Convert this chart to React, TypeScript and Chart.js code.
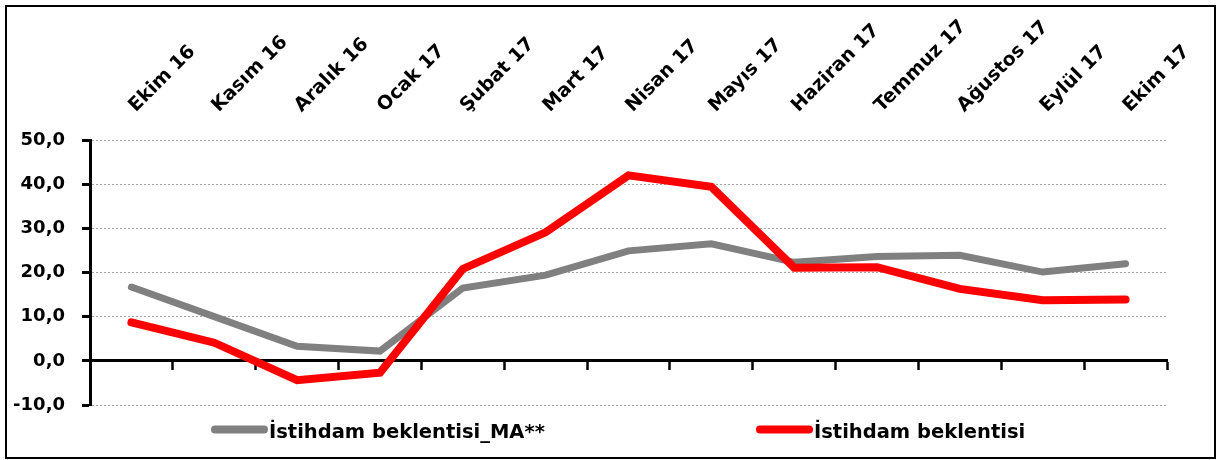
import React, { useEffect, useRef } from "react";
import { Chart, registerables } from "chart.js";

Chart.register(...registerables);

const categories = [
  "Ekim 16", "Kasım 16", "Aralık 16", "Ocak 17", "Şubat 17", "Mart 17", "Nisan 17",
  "Mayıs 17", "Haziran 17", "Temmuz 17", "Ağustos 17", "Eylül 17", "Ekim 17",
];
const maValues = [16.7, 10.0, 3.3, 2.2, 16.5, 19.4, 24.9, 26.5, 22.3, 23.6, 23.9, 20.1, 22.0];
const expectationValues = [8.7, 4.1, -4.4, -2.7, 20.8, 29.1, 42.0, 39.4, 21.1, 21.2, 16.3, 13.7, 13.9];
const yTickValues = [-10, 0, 10, 20, 30, 40, 50];
const maLabel = "İstihdam beklentisi_MA**";
const expectationLabel = "İstihdam beklentisi";

const FONT = '"DejaVu Sans", sans-serif';

const legendPlugin = {
  id: "customLegend",
  afterDraw(chart: any) {
    const { ctx, chartArea } = chart;
    const items = [
      { ds: chart.data.datasets[0], x: chartArea.left + 121 },
      { ds: chart.data.datasets[1], x: chartArea.left + 666 },
    ];
    const lineY = chartArea.bottom + 24.5;
    const textY = chartArea.bottom + 33;
    ctx.save();
    for (const it of items) {
      ctx.beginPath();
      ctx.lineCap = "round";
      ctx.lineWidth = 8;
      ctx.strokeStyle = it.ds.borderColor;
      ctx.moveTo(it.x + 4, lineY);
      ctx.lineTo(it.x + 53, lineY);
      ctx.stroke();
      ctx.fillStyle = "#000";
      ctx.font = `bold 19.5px ${FONT}`;
      ctx.textAlign = "left";
      ctx.textBaseline = "alphabetic";
      ctx.fillText(it.ds.label, it.x + 58, textY);
    }
    ctx.restore();
  },
};

export default function App() {
  const ref = useRef<HTMLCanvasElement>(null);

  useEffect(() => {
    const chart = new Chart(ref.current as HTMLCanvasElement, {
      type: "line",
      data: {
        labels: categories,
        datasets: [
          {
            label: maLabel,
            data: maValues,
            borderColor: "#808080",
            backgroundColor: "#808080",
            borderWidth: 7,
            pointRadius: 0,
            tension: 0,
            borderCapStyle: "round",
            order: 1,
            xAxisID: "x",
            yAxisID: "y",
          },
          {
            label: expectationLabel,
            data: expectationValues,
            borderColor: "#ff0000",
            backgroundColor: "#ff0000",
            borderWidth: 8,
            pointRadius: 0,
            tension: 0,
            borderCapStyle: "round",
            order: 0,
            xAxisID: "x",
            yAxisID: "y",
          },
        ],
      },
      options: {
        responsive: false,
        animation: false,
        devicePixelRatio: 1,
        layout: { padding: { left: 10, right: 50, top: 0, bottom: 55 } },
        plugins: { legend: { display: false }, tooltip: { enabled: false } },
        scales: {
          x: {
            type: "category",
            position: "top",
            offset: true,
            grid: { display: false },
            border: { display: false },
            ticks: {
              autoSkip: false,
              minRotation: 45,
              maxRotation: 45,
              padding: 15,
              labelOffset: 17,
              color: "#000",
              font: { family: FONT, size: 19, weight: "bold" },
            },
            afterFit: (s: any) => {
              s.height = 140;
            },
          },
          x2: {
            type: "category",
            axis: "x",
            position: { y: 0 },
            offset: true,
            labels: categories,
            grid: {
              display: true,
              drawOnChartArea: false,
              drawTicks: true,
              tickLength: 8,
              tickWidth: 2.5,
              tickColor: "#000",
              offset: true,
            },
            border: { display: true, color: "#000", width: 3 },
            ticks: { display: false },
          },
          y: {
            type: "linear",
            position: "left",
            min: -10,
            max: 50,
            afterBuildTicks: (s: any) => {
              s.ticks = yTickValues.map((v) => ({ value: v }));
            },
            afterFit: (s: any) => {
              s.width = 80;
            },
            grid: {
              color: (c: any) => (c.tick && c.tick.value === 0 ? "rgba(0,0,0,0)" : "#a6a6a6"),
              lineWidth: 1,
              tickLength: 8,
              tickWidth: 3,
              tickColor: "#000",
              tickBorderDash: [],
            },
            border: { display: true, color: "#000", width: 3, dash: [2, 2] },
            ticks: {
              padding: 17,
              color: "#000",
              font: { family: FONT, size: 18, weight: "bold" },
              callback: (v: any) => Number(v).toFixed(1).replace(".", ","),
            },
          },
        },
      } as any,
      plugins: [legendPlugin],
    });
    return () => chart.destroy();
  }, []);

  return (
    <div style={{ position: "fixed", left: 0, top: 0, width: 1217, height: 460, background: "#fff" }}>
      <canvas
        ref={ref}
        width={1217}
        height={460}
        style={{ position: "absolute", left: 0, top: 0, width: 1217, height: 460 }}
      />
      <div
        style={{
          position: "absolute",
          left: 5,
          top: 5,
          width: 1211,
          height: 454,
          border: "2.5px solid #000",
          boxSizing: "border-box",
          pointerEvents: "none",
        }}
      />
    </div>
  );
}
